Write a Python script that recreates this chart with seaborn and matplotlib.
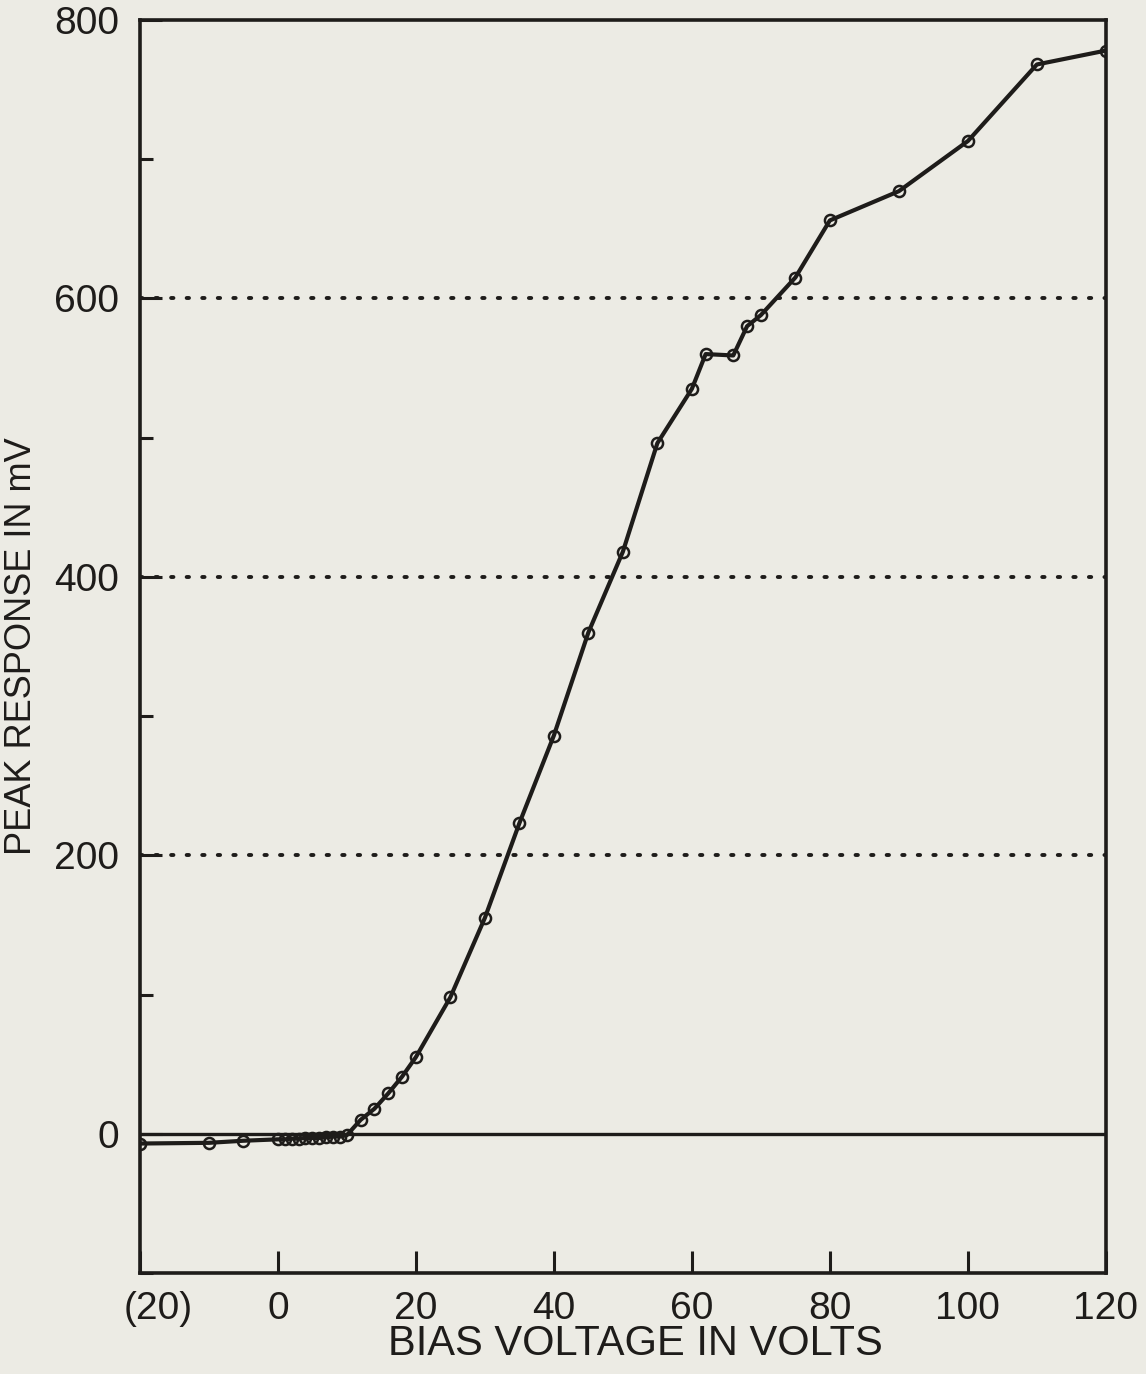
import matplotlib
matplotlib.use("Agg")
import matplotlib.pyplot as plt
import matplotlib.transforms as mtransforms
import seaborn as sns
import pandas as pd
from matplotlib.ticker import MultipleLocator

bias_volts = [-20, -10, -5, 0, 1, 2, 3, 4, 5, 6, 7, 8, 9, 10, 12, 14, 16, 18, 20,
              25, 30, 35, 40, 45, 50, 55, 60, 62, 66, 68, 70, 75, 80, 90, 100, 110, 120]
peak_mv = [-7, -6.5, -5, -4, -4, -3.5, -3.5, -3, -3, -3, -2.5, -2, -2, -1, 10, 18, 29, 41, 55,
           98, 155, 223, 286, 360, 418, 496, 535, 560, 559, 580, 588, 615, 656, 677, 713, 768, 778]
x_ticks = [-20, 0, 20, 40, 60, 80, 100, 120]
x_labels = ["(20)", "0", "20", "40", "60", "80", "100", "120"]
y_ticks = [0, 200, 400, 600, 800]
y_labels = ["0", "200", "400", "600", "800"]
grid_levels = [200, 400, 600]

df = pd.DataFrame({"bias": bias_volts, "peak": peak_mv})

sns.set_style("ticks")
plt.rcParams["font.family"] = ["Liberation Sans", "DejaVu Sans"]
bg = "#ecebe4"
ink = "#1e1c1a"

fig = plt.figure(figsize=(11.46, 13.74), dpi=100, facecolor=bg)
ax = fig.add_axes([0.122, 0.0735, 0.843, 0.912])
ax.set_facecolor(bg)

for lvl in grid_levels:
    ax.axhline(lvl, color=ink, linestyle=(0, (0.6, 3.4)), linewidth=2.8,
               dash_capstyle="round", zorder=1)
ax.axhline(0, color=ink, linewidth=2.4, zorder=1)

sns.lineplot(data=df, x="bias", y="peak", ax=ax, color=ink, linewidth=3.0,
             marker="o", markersize=8, markerfacecolor="none",
             markeredgecolor=ink, markeredgewidth=1.8, sort=False, zorder=3)

ax.set_xlim(-20, 120)
ax.set_ylim(-100, 800)
ax.set_xticks(x_ticks)
ax.set_xticklabels(x_labels)
ax.set_yticks(y_ticks)
ax.set_yticklabels(y_labels)
ax.yaxis.set_minor_locator(MultipleLocator(100))

ax.tick_params(axis="both", which="major", direction="in", length=16, width=2.2,
               color=ink, labelsize=28, labelcolor=ink)
ax.tick_params(axis="x", which="major", pad=13)
ax.tick_params(axis="y", which="major", pad=15)
ax.tick_params(axis="y", which="minor", direction="in", length=9, width=2.2, color=ink)
ax.tick_params(axis="x", which="minor", length=0)

# the "(20)" label sits a little right of its tick in the original
first = ax.get_xticklabels()[0]
first.set_transform(first.get_transform() +
                    mtransforms.ScaledTranslation(18 / 100, 0, fig.dpi_scale_trans))

for s in ax.spines.values():
    s.set_linewidth(2.6)
    s.set_color(ink)

ax.set_xlabel("BIAS VOLTAGE IN VOLTS", fontsize=30, color=ink)
ax.xaxis.set_label_coords(0.513, -0.041)
ax.set_ylabel("PEAK RESPONSE IN mV", fontsize=26, color=ink)
ax.yaxis.set_label_coords(-0.104, 0.5)

fig.savefig("out.png", dpi=100, facecolor=bg)
